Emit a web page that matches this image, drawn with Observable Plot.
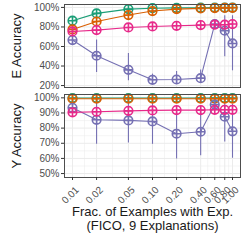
<!DOCTYPE html>
<html>
<head>
<meta charset="utf-8">
<script src="https://cdn.jsdelivr.net/npm/d3@7"></script>
<script src="https://cdn.jsdelivr.net/npm/@observablehq/plot@0.6"></script>
<style>
  html, body { margin: 0; padding: 0; background: #fff; }
  #chart { width: 242px; height: 242px; overflow: hidden; }
  #chart svg { display: block; }
</style>
</head>
<body>
<div id="chart"></div>
<script>
// ---- data ----
const fracs = [0.01, 0.02, 0.05, 0.1, 0.2, 0.4, 0.6, 0.8, 1.0];
const seriesNames = ["s1", "s2", "s3", "s4"];
const seriesColors = ["#1b9e77", "#d95f02", "#7570b3", "#e7298a"];

// E Accuracy (%)
const eS1 = [86.4, 93.9, 98.3, 99.2, 99.5, 99.7, 99.8, 99.8, 99.9];
const eS2 = [77.5, 85.6, 92.2, 96.3, 98.3, 99.0, 99.3, 99.5, 99.6];
const eS3 = [66.6, 50.5, 36.1, 25.9, 26.2, 27.6, 83.0, 76.1, 63.1];
const eS3Lo = [66.0, 33.4, 24.8, 21.4, 21.4, 23.1, 79.5, 49.4, 35.1];
const eS3Hi = [67.0, 66.6, 52.8, 31.7, 34.4, 35.8, 86.4, 91.5, 91.5];
const eS4 = [75.4, 76.8, 79.5, 80.5, 81.2, 81.9, 82.3, 82.3, 83.0];

// Y Accuracy (%)
const yS1 = [99.9, 99.9, 99.9, 99.9, 99.9, 99.9, 99.9, 99.9, 99.9];
const yS2 = [99.4, 99.4, 99.4, 99.4, 99.4, 99.4, 99.4, 99.4, 99.4];
const yS3 = [93.4, 85.5, 85.1, 84.4, 76.3, 77.6, 95.6, 87.5, 77.9];
const yS3Lo = [92.0, 69.3, 70.2, 69.3, 59.6, 61.8, 93.0, 70.8, 60.1];
const yS3Hi = [95.0, 100, 100, 99.5, 93.0, 93.4, 98.0, 100, 95.7];
const yS4 = [90.4, 90.8, 91.4, 91.7, 91.9, 91.9, 92.1, 92.1, 92.1];

// ticks
const xTicks = [0.01, 0.02, 0.05, 0.1, 0.2, 0.4, 0.6, 0.8, 1.0];
const xTickLabels = ["0.01", "0.02", "0.05", "0.10", "0.20", "0.40", "0.60", "0.80", "1.00"];
const eTicks = [20, 40, 60, 80, 100];
const eMinor = [30, 50, 70, 90];
const yTicks = [50, 60, 70, 80, 90, 100];
const yMinor = [55, 65, 75, 85, 95];

// ---- build tables ----
function rows(arrs) {
  const out = [];
  arrs.forEach((a, i) => a.forEach((v, j) => out.push({s: seriesNames[i], x: fracs[j], y: v})));
  return out;
}
const eRows = rows([eS1, eS2, eS3, eS4]);
const yRows = rows([yS1, yS2, yS3, yS4]);
const eErr = fracs.map((x, j) => ({s: "s3", x, lo: eS3Lo[j], hi: eS3Hi[j]}));
const yErr = fracs.map((x, j) => ({s: "s3", x, lo: yS3Lo[j], hi: yS3Hi[j]}));
const xMinor = xTicks.slice(1).map((t, i) => Math.sqrt(t * xTicks[i]));
const xTickRows = xTicks.map((x, i) => ({x, label: xTickLabels[i]}));

const circlePlus = {
  draw(ctx, size) {
    const r = Math.sqrt(size / Math.PI);
    ctx.moveTo(r, 0);
    ctx.arc(0, 0, r, 0, 2 * Math.PI);
    ctx.moveTo(-r, 0); ctx.lineTo(r, 0);
    ctx.moveTo(0, -r); ctx.lineTo(0, r);
  }
};

const W = 242, ML = 64, MR = 2;
const xDomain = [Math.pow(10, -2.1), Math.pow(10, 0.1)];
const font = "Liberation Sans, Arial, sans-serif";

function panel({data, err, yDomain, ticks, minor, height, marginBottom, title, showX}) {
  const marks = [
    Plot.ruleY(minor, {stroke: "#ebebeb", strokeWidth: 0.5}),
    Plot.ruleX(xMinor, {stroke: "#ebebeb", strokeWidth: 0.5}),
    Plot.ruleY(ticks, {stroke: "#ebebeb", strokeWidth: 1}),
    Plot.ruleX(xTicks, {stroke: "#ebebeb", strokeWidth: 1}),
    Plot.line(data, {x: "x", y: "y", z: "s", stroke: "s", strokeWidth: 1.1}),
    Plot.ruleX(err, {x: "x", y1: "lo", y2: "hi", stroke: "s", strokeWidth: 1.1}),
    Plot.dot(data, {x: "x", y: "y", stroke: "s", symbol: () => circlePlus, r: 4.3, strokeWidth: 1.6, fill: "none"}),
    Plot.frame({stroke: "#4d4d4d", strokeWidth: 1}),
    Plot.axisY({ticks, tickSize: 3, tickPadding: 2, tickFormat: d => d + "%", fontSize: 10, color: "#4d4d4d", label: null, stroke: "#333"}),
    Plot.text([title], {frameAnchor: "left", dx: -48, rotate: -90, fontSize: 13, fill: "#1a1a1a", textAnchor: "middle"})
  ];
  if (showX) {
    marks.push(
      Plot.axisX({ticks: xTicks, tickSize: 3, tickFormat: () => "", label: null, stroke: "#333"}),
      Plot.text(xTickRows, {x: "x", text: "label", frameAnchor: "bottom", dx: 2, dy: 8, rotate: -45, textAnchor: "end", lineAnchor: "top", fontSize: 10, fill: "#4d4d4d"}),
      Plot.text(["Frac. of Examples with Exp."], {frameAnchor: "bottom", dy: 38, fontSize: 13, fill: "#1a1a1a"}),
      Plot.text(["(FICO, 9 Explanations)"], {frameAnchor: "bottom", dy: 52, fontSize: 13, fill: "#1a1a1a"})
    );
  }
  return Plot.plot({
    width: W, height, marginLeft: ML, marginRight: MR, marginTop: 4, marginBottom,
    style: {fontFamily: font, background: "#fff", overflow: "visible"},
    x: {type: "log", domain: xDomain, axis: null},
    y: {domain: yDomain, axis: null},
    color: {domain: seriesNames, range: seriesColors},
    marks
  });
}

const topPanel = panel({data: eRows, err: eErr, yDomain: [18, 103], ticks: eTicks, minor: eMinor,
  height: 90, marginBottom: 3, title: "E Accuracy", showX: false});
const bottomPanel = panel({data: yRows, err: yErr, yDomain: [47.4, 102.2], ticks: yTicks, minor: yMinor,
  height: 152, marginBottom: 65, title: "Y Accuracy", showX: true});

const el = document.getElementById("chart");
el.appendChild(topPanel);
el.appendChild(bottomPanel);
</script>
</body>
</html>
